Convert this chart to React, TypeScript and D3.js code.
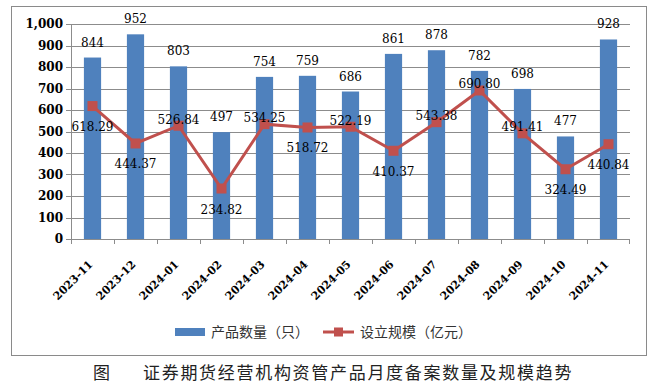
import React from "react";
import * as d3 from "d3";

const months = [
  "2023-11", "2023-12", "2024-01", "2024-02", "2024-03", "2024-04", "2024-05",
  "2024-06", "2024-07", "2024-08", "2024-09", "2024-10", "2024-11",
];
const productCounts = [844, 952, 803, 497, 754, 759, 686, 861, 878, 782, 698, 477, 928];
const setupScale = [
  618.29, 444.37, 526.84, 234.82, 534.25, 518.72, 522.19, 410.37, 543.38, 690.8,
  491.41, 324.49, 440.84,
];
const yTickValues = [0, 100, 200, 300, 400, 500, 600, 700, 800, 900, 1000];
// where excel put the line labels
const lineLabelSide = [
  "below", "below", "above", "below", "above", "below", "above",
  "below", "above", "above", "above", "below", "below",
];

const W = 658;
const H = 388;
const left = 71;
const right = 630;
const top = 24;
const bottom = 239;

const BLUE = "#4f81bd";
const RED = "#c0504d";
const GRID = "#8c8c8c";
const NUM_FONT = "'DejaVu Serif', serif";
const CJK_FONT = "'Noto Sans CJK SC', sans-serif";

export default function App() {
  const x = d3.scaleBand<string>().domain(months).range([left, right]).padding(0);
  const y = d3.scaleLinear().domain([0, 1000]).range([bottom, top]);
  const barW = x.bandwidth() * 0.4;
  const cx = (m: string) => (x(m) ?? 0) + x.bandwidth() / 2;

  const line = d3
    .line<number>()
    .x((_, i) => cx(months[i]))
    .y((d) => y(d));

  const fmt = d3.format(",");

  return (
    <svg
      width={W}
      height={H}
      style={{ position: "absolute", left: 0, top: 0, background: "#fff" }}
    >
      <rect x={11.5} y={6.5} width={635} height={349} fill="#fff" stroke="#8a8a8a" />

      {/* gridlines */}
      {yTickValues.map((t) => (
        <line key={"g" + t} x1={left} x2={right} y1={Math.round(y(t)) + 0.5} y2={Math.round(y(t)) + 0.5} stroke={GRID} />
      ))}

      {/* y axis */}
      <line x1={left + 0.5} x2={left + 0.5} y1={top} y2={bottom} stroke={GRID} />
      {yTickValues.map((t) => (
        <g key={"yt" + t}>
          <line x1={left - 5} x2={left} y1={Math.round(y(t)) + 0.5} y2={Math.round(y(t)) + 0.5} stroke={GRID} />
          <text
            x={63}
            y={y(t)}
            dy="0.36em"
            textAnchor="end"
            fontFamily={NUM_FONT}
            fontWeight="bold"
            fontSize={12}
            fill="#000"
          >
            {fmt(t)}
          </text>
        </g>
      ))}

      {/* bars */}
      {productCounts.map((v, i) => (
        <rect key={"b" + i} x={cx(months[i]) - barW / 2} y={y(v)} width={barW} height={y(0) - y(v)} fill={BLUE} />
      ))}

      {/* x axis */}
      <line x1={left} x2={right} y1={bottom + 0.5} y2={bottom + 0.5} stroke={GRID} />
      {months.map((m) => (
        <line key={"xt" + m} x1={(x(m) ?? 0) + 0.5} x2={(x(m) ?? 0) + 0.5} y1={bottom} y2={bottom + 5} stroke={GRID} />
      ))}
      <line x1={right - 0.5} x2={right - 0.5} y1={bottom} y2={bottom + 5} stroke={GRID} />
      {months.map((m) => (
        <text
          key={"xl" + m}
          transform={`translate(${cx(m) + 1},${bottom + 26}) rotate(-45)`}
          textAnchor="end"
          fontFamily={NUM_FONT}
          fontWeight="bold"
          fontSize={11}
          fill="#000"
        >
          {m}
        </text>
      ))}

      {/* bar labels */}
      {productCounts.map((v, i) => (
        <text key={"bl" + i} x={cx(months[i])} y={y(v) - 11} textAnchor="middle" fontFamily={NUM_FONT} fontSize={12} fill="#000">
          {v}
        </text>
      ))}

      {/* line series */}
      <path d={line(setupScale) ?? ""} fill="none" stroke={RED} strokeWidth={3} />
      {setupScale.map((v, i) => (
        <rect key={"m" + i} x={cx(months[i]) - 5} y={y(v) - 5} width={10} height={10} fill={RED} />
      ))}
      {setupScale.map((v, i) => (
        <text
          key={"ll" + i}
          x={cx(months[i])}
          y={y(v) + (lineLabelSide[i] === "below" ? 25 : -2)}
          textAnchor="middle"
          fontFamily={NUM_FONT}
          fontSize={12}
          fill="#000"
        >
          {v.toFixed(2)}
        </text>
      ))}

      {/* legend */}
      <g fontFamily={CJK_FONT} fontSize={14} fill="#333">
        <rect x={175} y={328} width={30} height={8} fill={BLUE} />
        <text x={211} y={337}>产品数量（只）</text>
        <line x1={323} x2={354} y1={332} y2={332} stroke={RED} strokeWidth={3} />
        <rect x={334} y={327.5} width={9} height={9} fill={RED} />
        <text x={360} y={337}>设立规模（亿元）</text>
      </g>

      {/* caption */}
      <g fontFamily={CJK_FONT} fontSize={17} fill="#222">
        <text x={93} y={379}>图</text>
        <text x={143} y={379} letterSpacing={1.7}>证券期货经营机构资管产品月度备案数量及规模趋势</text>
      </g>
    </svg>
  );
}
